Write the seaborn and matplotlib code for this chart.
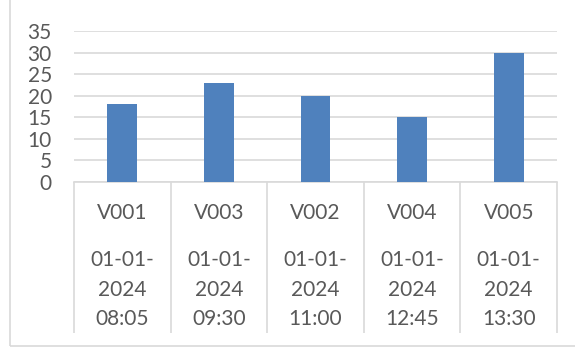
import matplotlib
matplotlib.use("Agg")
import matplotlib.pyplot as plt
import seaborn as sns
import pandas as pd
from matplotlib.patches import Rectangle

# Vehicle readings
vehicles = ["V001", "V003", "V002", "V004", "V005"]
timestamps = ["01-01-\n2024\n08:05", "01-01-\n2024\n09:30", "01-01-\n2024\n11:00",
              "01-01-\n2024\n12:45", "01-01-\n2024\n13:30"]
values = [18, 23, 20, 15, 30]
y_ticks = [0, 5, 10, 15, 20, 25, 30, 35]

sns.set_theme(style="white")
plt.rcParams["font.family"] = ["Lato", "DejaVu Sans"]

TEXT = "#595959"
GRID = "#d9d9d9"
BAR = "#4F81BD"

df = pd.DataFrame({"vehicle": vehicles, "value": values})

fig = plt.figure(figsize=(5.75, 3.48), dpi=100)
ax = fig.add_axes([74 / 575, (348 - 182) / 348, 483 / 575, 151 / 348])

sns.barplot(data=df, x="vehicle", y="value", order=vehicles, color=BAR,
            saturation=1, width=0.31, linewidth=0, ax=ax, zorder=3)

ax.set_xlim(-0.5, len(vehicles) - 0.5)
ax.set_ylim(0, 35)
ax.set_yticks(y_ticks)
ax.set_yticklabels([str(t) for t in y_ticks], fontsize=15, color=TEXT)
ax.tick_params(axis="y", length=0, pad=16)
ax.yaxis.grid(True, color=GRID, linewidth=1.2, zorder=0)
ax.set_axisbelow(True)
ax.set_xlabel("")
ax.set_ylabel("")

for side in ("left", "right", "top"):
    ax.spines[side].set_visible(False)
ax.spines["bottom"].set_color(GRID)
ax.spines["bottom"].set_linewidth(1.2)

# Category boxes: long minor ticks between the groups
ax.set_xticks(range(len(vehicles)))
ax.set_xticklabels([])
ax.tick_params(axis="x", which="major", length=0)
ax.set_xticks([i - 0.5 for i in range(len(vehicles) + 1)], minor=True)
ax.tick_params(axis="x", which="minor", length=151 * 0.72, width=1.2,
               color=GRID, direction="out", bottom=True)

for i, (v, ts) in enumerate(zip(vehicles, timestamps)):
    ax.text(i, -0.205, v, transform=ax.get_xaxis_transform(), ha="center",
            va="center", fontsize=15, color=TEXT)
    ax.text(i, -0.712, ts, transform=ax.get_xaxis_transform(), ha="center",
            va="center", fontsize=15, color=TEXT, linespacing=1.6,
            multialignment="center")

# Chart frame
fig.patches.append(Rectangle((10 / 575, 2 / 348), 1.0, 1.0,
                             transform=fig.transFigure, fill=False,
                             edgecolor=GRID, linewidth=1.2))

fig.savefig("out.png", dpi=100)
